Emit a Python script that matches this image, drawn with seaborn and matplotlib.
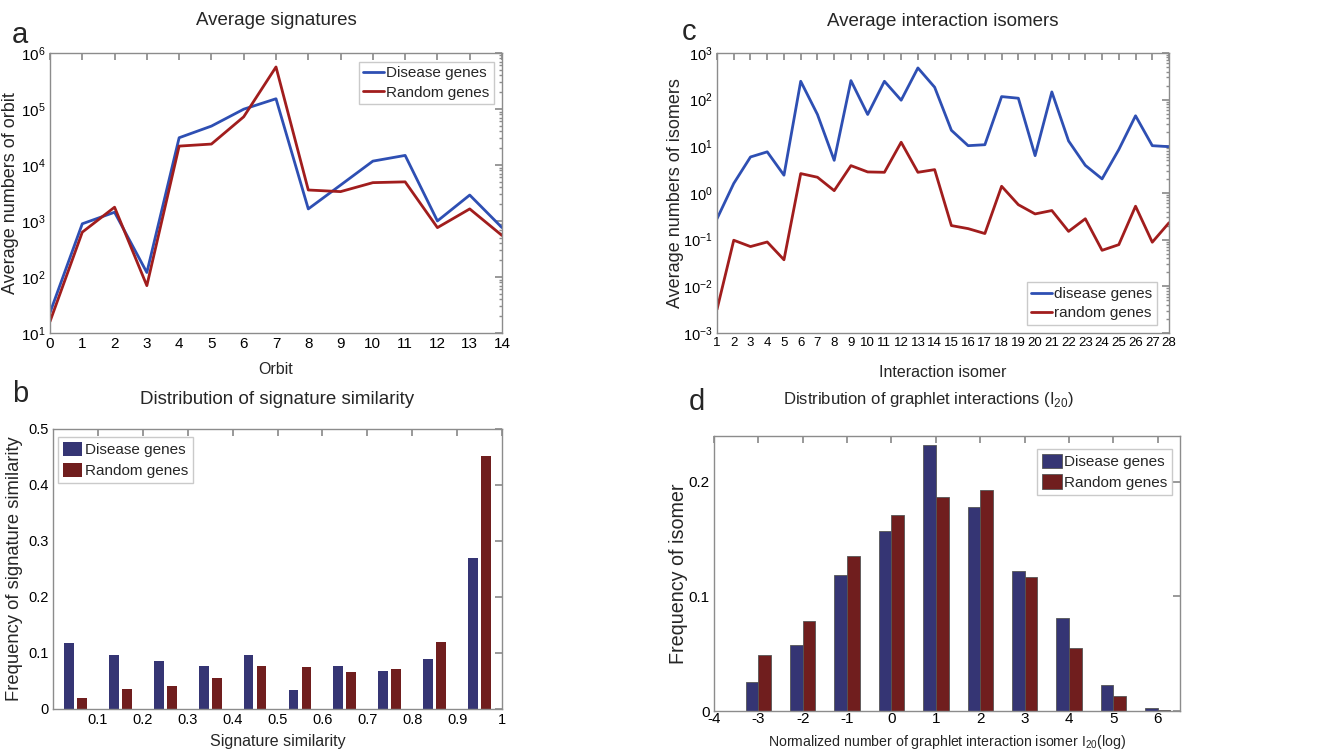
import numpy as np
import pandas as pd
import matplotlib
matplotlib.use("Agg")
import matplotlib.pyplot as plt
import seaborn as sns

# ---- data ----
orbits = list(range(15))
orbit_disease = [23, 890, 1430, 120, 30600, 49400, 99000, 152000, 1640, 4370,
                 11700, 14800, 1000, 2900, 760]
orbit_random = [16, 630, 1760, 70, 21700, 23600, 72400, 562000, 3570, 3340,
                4830, 4990, 760, 1640, 550]

isomers = list(range(1, 29))
isomer_disease = [0.28, 1.6, 5.9, 7.6, 2.4, 247, 48, 5.0, 255, 48, 247, 97, 477, 184,
                  22, 10.3, 10.8, 116, 107, 6.3, 146, 13, 3.9, 2.0, 8.5, 45, 10.3, 9.8]
isomer_random = [0.0032, 0.097, 0.071, 0.089, 0.037, 2.6, 2.17, 1.12, 3.85, 2.82, 2.77,
                 12.2, 2.77, 3.16, 0.2, 0.172, 0.135, 1.39, 0.56, 0.355, 0.42, 0.15,
                 0.28, 0.059, 0.078, 0.52, 0.088, 0.23]

sim_bins = [0.05, 0.15, 0.25, 0.35, 0.45, 0.55, 0.65, 0.75, 0.85, 0.95]
sim_disease = [0.117, 0.0965, 0.0864, 0.0763, 0.096, 0.034, 0.0769, 0.068, 0.0888, 0.269]
sim_random = [0.019, 0.036, 0.0405, 0.0548, 0.0769, 0.0757, 0.066, 0.072, 0.120, 0.451]

i20_bins = [-3, -2, -1, 0, 1, 2, 3, 4, 5, 6]
i20_disease = [0.0255, 0.0574, 0.119, 0.157, 0.232, 0.178, 0.122, 0.081, 0.0226, 0.0023]
i20_random = [0.0487, 0.0786, 0.135, 0.171, 0.187, 0.193, 0.117, 0.055, 0.0133, 0.001]

line_blue = "#2e4fb3"
line_red = "#a11d1d"
bar_blue = "#2b2b7e"
bar_red = "#7e1010"
edge = "#8c8c8c"

sns.set_theme(style="white")
plt.rcParams['font.family'] = ['Liberation Sans', 'DejaVu Sans']
plt.rcParams['axes.unicode_minus'] = False
plt.rcParams['mathtext.fontset'] = 'custom'
plt.rcParams['mathtext.rm'] = 'Liberation Sans'

fig = plt.figure(figsize=(13.19, 7.54), dpi=100)


def style_axes(ax, labelsize=10.5):
    for s in ax.spines.values():
        s.set_color(edge)
        s.set_linewidth(1.0)
    ax.tick_params(which="both", direction="in", top=True, right=True,
                   color=edge, labelcolor="black", labelsize=labelsize, pad=3)
    ax.tick_params(which="major", length=5)
    ax.tick_params(which="minor", length=2.5)


def legend(ax, loc, anchor, patches=False):
    leg = ax.legend(loc=loc, bbox_to_anchor=anchor, frameon=True, fancybox=False,
                    fontsize=11, edgecolor="#bdbdbd", borderpad=0.3,
                    labelspacing=0.35, borderaxespad=0,
                    handlelength=1.3 if patches else 1.35,
                    handleheight=1.1 if patches else 0.7,
                    handletextpad=0.15)
    leg.get_frame().set_linewidth(1.0)
    return leg


def labels(ax, title, title_y, xlabel, xlabel_y, ylabel, ylabel_x,
           title_size=13.5, xlabel_size=11.5, ylabel_size=13, title_x=0.5):
    ax.set_title(title, fontsize=title_size, y=title_y, pad=0, x=title_x)
    ax.set_xlabel(xlabel, fontsize=xlabel_size)
    ax.xaxis.set_label_coords(0.5, xlabel_y)
    ax.set_ylabel(ylabel, fontsize=ylabel_size)
    ax.yaxis.set_label_coords(ylabel_x, 0.5)


# ---- panel a ----
ax_a = fig.add_axes([0.0379, 0.5584, 0.3427, 0.3714])
sns.lineplot(x=orbits, y=orbit_disease, ax=ax_a, color=line_blue, lw=2, label="Disease genes")
sns.lineplot(x=orbits, y=orbit_random, ax=ax_a, color=line_red, lw=2, label="Random genes")
ax_a.set_yscale("log")
ax_a.set_ylim(10, 1e6)
ax_a.set_xlim(0, 14)
ax_a.set_xticks(orbits)
style_axes(ax_a, labelsize=11)
labels(ax_a, "Average signatures", 1.10, "Orbit", -0.104,
       "Average numbers of orbit", -0.069)
legend(ax_a, "upper right", (0.982, 0.968))

# ---- panel c ----
ax_c = fig.add_axes([0.5436, 0.5584, 0.3427, 0.3714])
sns.lineplot(x=isomers, y=isomer_disease, ax=ax_c, color=line_blue, lw=2, label="disease genes")
sns.lineplot(x=isomers, y=isomer_random, ax=ax_c, color=line_red, lw=2, label="random genes")
ax_c.set_yscale("log")
ax_c.set_ylim(1e-3, 1e3)
ax_c.set_xlim(1, 28)
ax_c.set_xticks(isomers)
style_axes(ax_c)
ax_c.tick_params(axis="x", labelsize=9.5)
labels(ax_c, "Average interaction isomers", 1.096, "Interaction isomer", -0.114,
       "Average numbers of isomers", -0.073)
legend(ax_c, "lower right", (0.973, 0.029))

# ---- panel b ----
ax_b = fig.add_axes([0.0402, 0.0597, 0.3404, 0.3714])
df_b = pd.DataFrame({
    "bin": sim_bins * 2,
    "freq": sim_disease + sim_random,
    "group": ["Disease genes"] * len(sim_bins) + ["Random genes"] * len(sim_bins),
})
sns.barplot(data=df_b, x="bin", y="freq", hue="group", native_scale=True,
            palette=[bar_blue, bar_red], width=0.58, gap=0.25, ax=ax_b,
            edgecolor="none", errorbar=None)
ax_b.set_xlim(0, 1)
ax_b.set_ylim(0, 0.5)
ax_b.set_xticks([0.1, 0.2, 0.3, 0.4, 0.5, 0.6, 0.7, 0.8, 0.9, 1.0])
ax_b.set_xticklabels(["0.1", "0.2", "0.3", "0.4", "0.5", "0.6", "0.7", "0.8", "0.9", "1"])
ax_b.set_yticks([0, 0.1, 0.2, 0.3, 0.4, 0.5])
ax_b.set_yticklabels(["0", "0.1", "0.2", "0.3", "0.4", "0.5"])
style_axes(ax_b, labelsize=10.5)
labels(ax_b, "Distribution of signature similarity", 1.089, "Signature similarity", -0.089,
       "Frequency of signature similarity", -0.066, ylabel_size=13.2)
legend(ax_b, "upper left", (0.011, 0.971), patches=True)

# ---- panel d ----
ax_d = fig.add_axes([0.5413, 0.0570, 0.3533, 0.3647])
df_d = pd.DataFrame({
    "bin": i20_bins * 2,
    "freq": i20_disease + i20_random,
    "group": ["Disease genes"] * len(i20_bins) + ["Random genes"] * len(i20_bins),
})
sns.barplot(data=df_d, x="bin", y="freq", hue="group", native_scale=True,
            palette=[bar_blue, bar_red], width=0.57, ax=ax_d,
            edgecolor="#555555", linewidth=0.6, errorbar=None)
ax_d.set_xlim(-4, 6.5)
ax_d.set_ylim(0, 0.24)
ax_d.set_xticks(list(range(-4, 7)))
ax_d.set_yticks([0, 0.1, 0.2])
ax_d.set_yticklabels(["0", "0.1", "0.2"])
style_axes(ax_d, labelsize=11)
ax_d.tick_params(axis="x", pad=1)
labels(ax_d, "Distribution of graphlet interactions (I$_{20}$)", 1.116,
       "Normalized number of graphlet interaction isomer I$_{20}$(log)", -0.08,
       "Frequency of isomer", -0.055, title_size=12, xlabel_size=10.2,
       ylabel_size=14.2, title_x=0.461)
legend(ax_d, "upper right", (0.983, 0.953), patches=True)

# panel letters
for lbl, x, y in [("a", 12, 43), ("c", 682, 40), ("b", 12, 402), ("d", 689, 410)]:
    fig.text(x / 1319, 1 - y / 754, lbl, fontsize=21, ha="left", va="baseline")

fig.savefig("out.png", dpi=100)
